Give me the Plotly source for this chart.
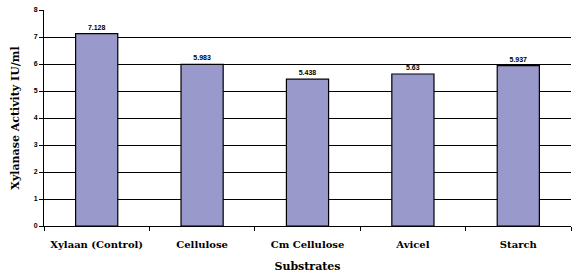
import plotly.graph_objects as go

categories = ["Xylaan (Control)", "Cellulose", "Cm Cellulose", "Avicel", "Starch"]
values = [7.128, 5.983, 5.438, 5.63, 5.937]
value_labels = ["7.128", "5.983", "5.438", "5.63", "5.937"]
y_ticks = [0, 1, 2, 3, 4, 5, 6, 7, 8]

fig = go.Figure()
fig.add_trace(go.Bar(
    x=categories, y=values, text=value_labels, textposition="outside",
    texttemplate="%{text}", cliponaxis=False,
    textfont=dict(family="Liberation Sans", size=7, color="black", weight="bold"),
    marker=dict(color="#9999CC", line=dict(color="black", width=1.2)),
    hoverinfo="skip",
))
fig.update_layout(
    width=583, height=275,
    margin=dict(l=44, r=12, t=10, b=49),
    paper_bgcolor="white", plot_bgcolor="white",
    bargap=0.6, showlegend=False,
    font=dict(family="Liberation Serif", color="black"),
)
fig.update_xaxes(
    automargin=False,
    showline=True, linecolor="black", linewidth=1,
    ticks="outside", tickson="boundaries", ticklen=4, tickcolor="black",
    ticklabelstandoff=9,
    tickfont=dict(family="DejaVu Serif", size=10, color="black", weight="bold"),
    title=dict(text="Substrates", font=dict(family="DejaVu Serif", size=11, color="black", weight="bold"), standoff=13),
)
fig.update_yaxes(
    automargin=False,
    range=[0, 8], tickvals=y_ticks, showline=True, linecolor="black", linewidth=1,
    ticks="outside", ticklen=4, tickcolor="black",
    showgrid=True, gridcolor="black", gridwidth=1, zeroline=False,
    tickfont=dict(family="Liberation Sans", size=7, color="black", weight="bold"),
    title=dict(text="Xylanase Activity IU/ml", font=dict(family="DejaVu Serif", size=11, color="black", weight="bold"), standoff=11),
)
fig.write_html("out.html", config={"displayModeBar": False},
               post_script="document.body.style.margin='0';")
